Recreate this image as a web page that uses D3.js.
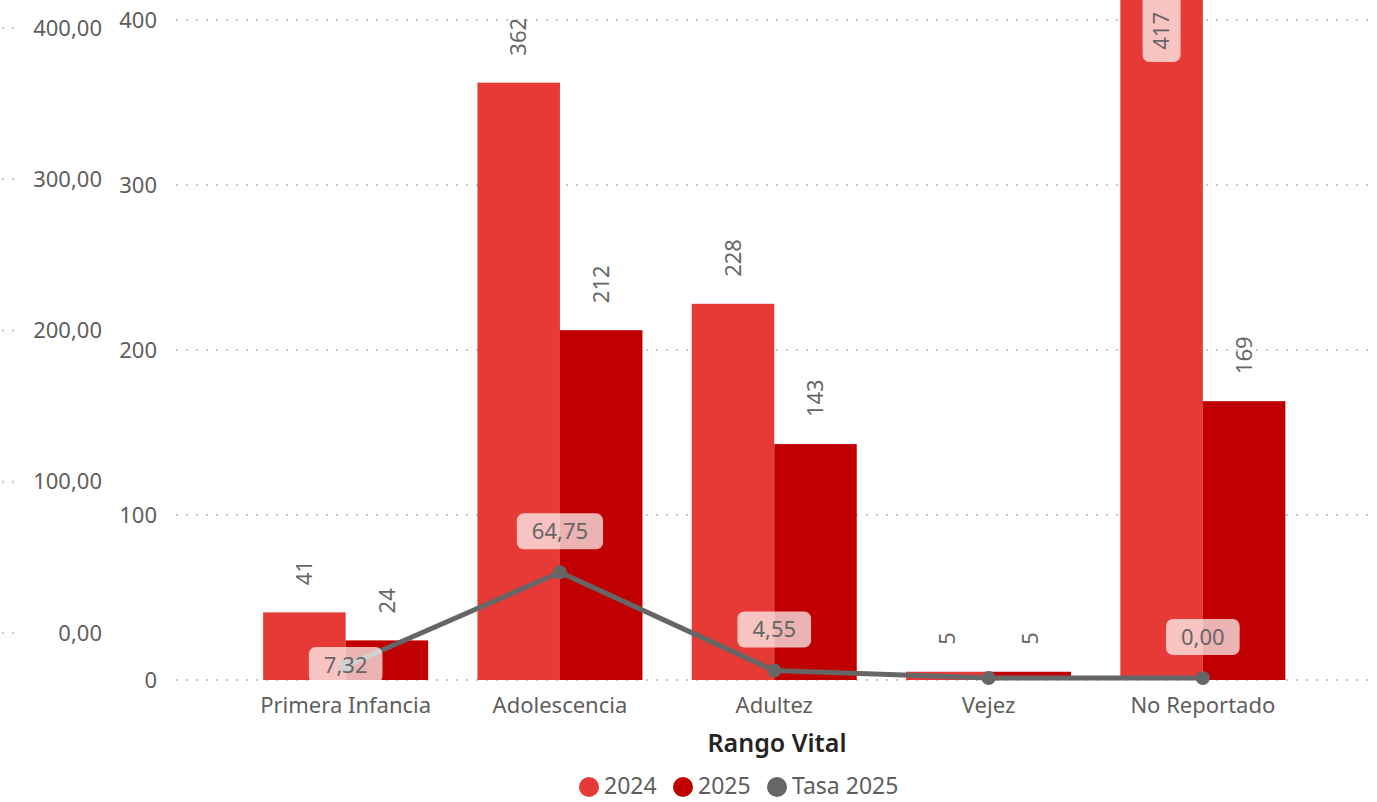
<!DOCTYPE html>
<html><head><meta charset="utf-8">
<script src="https://cdn.jsdelivr.net/npm/d3@7"></script>
<style>
body{margin:0;background:#fff}
svg{display:block}
text{font-family:"Noto Sans",sans-serif}
</style>
</head><body>
<svg id="chart" width="1377" height="802"></svg>
<script>
// ---- data ----
const categories = ["Primera Infancia", "Adolescencia", "Adultez", "Vejez", "No Reportado"];
const values2024 = [41, 362, 228, 5, 417];
const values2025 = [24, 212, 143, 5, 169];
const tasa2025 = [7.32, 64.75, 4.55, 0, 0];
const tasaLabelShown = [true, true, true, false, true]; // Vejez label hidden in original
const barTicks = [0, 100, 200, 300, 400];
const lineTicks = [0, 100, 200, 300, 400];
const seriesNames = ["2024", "2025", "Tasa 2025"];
const seriesColors = ["#e53a35", "#c00000", "#666666"];
const axisTitle = "Rango Vital";

// ---- setup ----
const svg = d3.select("#chart");
const textCol = "#605e5c";
const fmt2 = d => d3.format(".2f")(d).replace(".", ",");

const x = d3.scaleBand().domain(categories).range([238.5, 1310]).paddingInner(0.23).paddingOuter(0.115);
const xs = d3.scaleBand().domain(["2024", "2025"]).range([0, x.bandwidth()]);
const yBar = d3.scaleLinear().domain([0, 400]).range([680, 20]);
const yLine = d3.scaleLinear().domain([0, 400]).range([678, 25.2]);
const yLineAxis = d3.scaleLinear().domain([0, 400]).range([633, 28]);

// gridlines
svg.append("g").selectAll("line").data(barTicks).join("line")
  .attr("x1", 176).attr("x2", 1372)
  .attr("y1", d => yBar(d)).attr("y2", d => yBar(d))
  .attr("stroke", "#c8c8c8").attr("stroke-width", 2).attr("stroke-dasharray", "2,8");
// secondary gridline stubs at far left
svg.append("g").selectAll("line").data(lineTicks).join("line")
  .attr("x1", 2).attr("x2", 16)
  .attr("y1", d => yLineAxis(d)).attr("y2", d => yLineAxis(d))
  .attr("stroke", "#c8c8c8").attr("stroke-width", 2).attr("stroke-dasharray", "2,8");

// axes
function styleAxis(g, size) {
  g.select(".domain").remove();
  g.selectAll("line").remove();
  g.selectAll("text").attr("fill", textCol).style("font-size", size + "px").style("font-family", '"Noto Sans",sans-serif');
}
svg.append("g").attr("transform", "translate(157,0)")
  .call(d3.axisLeft(yBar).tickValues(barTicks).tickSize(0).tickPadding(0))
  .call(g => styleAxis(g, 22));
svg.append("g").attr("transform", "translate(102,0)")
  .call(d3.axisLeft(yLineAxis).tickValues(lineTicks).tickFormat(fmt2).tickSize(0).tickPadding(0))
  .call(g => styleAxis(g, 22));
svg.append("g").attr("transform", "translate(0,680)")
  .call(d3.axisBottom(x).tickSize(0).tickPadding(17))
  .call(g => styleAxis(g, 22));

// bars
const barData = [];
categories.forEach((c, i) => {
  barData.push({ c, s: "2024", v: values2024[i], col: seriesColors[0] });
  barData.push({ c, s: "2025", v: values2025[i], col: seriesColors[1] });
});
svg.append("g").selectAll("rect").data(barData).join("rect")
  .attr("x", d => x(d.c) + xs(d.s))
  .attr("width", xs.bandwidth())
  .attr("y", d => yBar(d.v))
  .attr("height", d => yBar(0) - yBar(d.v))
  .attr("fill", d => d.col);

// bar labels
const bl = svg.append("g");
barData.forEach(d => {
  const cx = x(d.c) + xs(d.s) + xs.bandwidth() / 2;
  const top = yBar(d.v);
  if (top < 0) {
    // inside end, with background box
    bl.append("rect").attr("x", cx - 19).attr("y", -10).attr("width", 38).attr("height", 72)
      .attr("rx", 7).attr("fill", "#fff").attr("fill-opacity", 0.7);
    bl.append("text").attr("transform", `translate(${cx},12) rotate(-90)`)
      .attr("text-anchor", "end").attr("dy", "0.35em")
      .attr("fill", "#666").style("font-size", "22px").text(d.v);
  } else {
    bl.append("text").attr("transform", `translate(${cx},${top - 27}) rotate(-90)`)
      .attr("text-anchor", "start").attr("dy", "0.35em")
      .attr("fill", "#666").style("font-size", "22px").text(d.v);
  }
});

// line
const cxs = categories.map(c => x(c) + x.bandwidth() / 2);
const line = d3.line().x((d, i) => cxs[i]).y(d => yLine(d));
svg.append("path").datum(tasa2025).attr("d", line)
  .attr("fill", "none").attr("stroke", seriesColors[2]).attr("stroke-width", 5).attr("stroke-linejoin", "round");
svg.append("g").selectAll("circle").data(tasa2025).join("circle")
  .attr("cx", (d, i) => cxs[i]).attr("cy", d => yLine(d)).attr("r", 7).attr("fill", seriesColors[2]);

// line labels
const ll = svg.append("g");
tasa2025.forEach((v, i) => {
  if (!tasaLabelShown[i]) return;
  const px = cxs[i], py = yLine(v);
  const cy = i === 0 ? py - 1 : py - 41; // first label overlaps its point (collision with bar label)
  const g = ll.append("g");
  const t = g.append("text").attr("x", px).attr("y", cy).attr("dy", "0.35em")
    .attr("text-anchor", "middle").attr("fill", "#666").style("font-size", "22px").text(fmt2(v));
  const w = t.node().getComputedTextLength() + 30;
  g.insert("rect", "text").attr("x", px - w / 2).attr("y", cy - 18).attr("width", w).attr("height", 36)
    .attr("rx", 7).attr("fill", "#fff").attr("fill-opacity", 0.7);
});

// axis title
svg.append("text").attr("x", 777).attr("y", 752).attr("text-anchor", "middle")
  .attr("fill", "#252423").style("font-size", "25px").style("font-weight", 600).text(axisTitle);

// legend
const lg = svg.append("g");
const legX = [589, 683, 777];
seriesNames.forEach((s, i) => {
  lg.append("circle").attr("cx", legX[i]).attr("cy", 787).attr("r", 10).attr("fill", seriesColors[i]);
  lg.append("text").attr("x", legX[i] + 15).attr("y", 786).attr("dy", "0.35em").attr("fill", textCol)
    .style("font-size", "23px").text(s);
});
</script>
</body></html>
